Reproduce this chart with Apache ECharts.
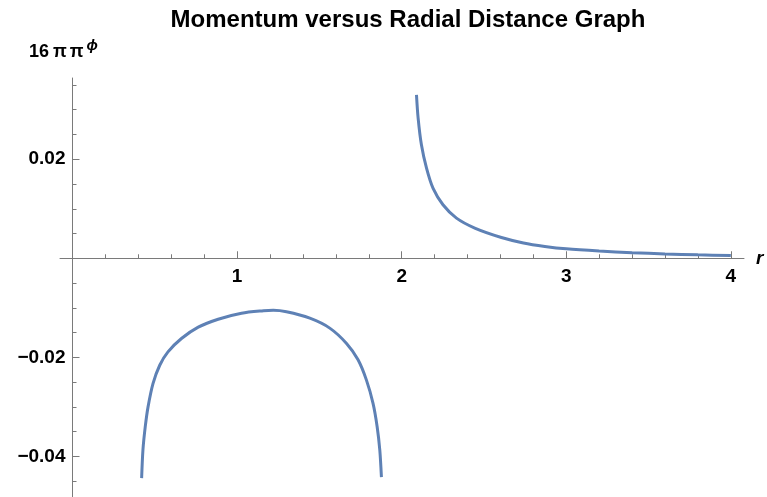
<!DOCTYPE html>
<html>
<head>
<meta charset="utf-8">
<script src="https://cdn.jsdelivr.net/npm/echarts@6/dist/echarts.min.js"></script>
<style>
html,body{margin:0;padding:0;background:#fff;}
#chart{width:767px;height:497px;}
</style>
</head>
<body>
<div id="chart"></div>
<script>
// ---- data ----
var titleText = 'Momentum versus Radial Distance Graph';
var xMajorTicks = [1, 2, 3, 4];
var xMinorTicks = [0.2, 0.4, 0.6, 0.8, 1.2, 1.4, 1.6, 1.8, 2.2, 2.4, 2.6, 2.8, 3.2, 3.4, 3.6, 3.8];
var yMajorTicks = [-0.04, -0.02, 0.02];
var yMinorTicks = [-0.045, -0.035, -0.03, -0.025, -0.015, -0.01, -0.005, 0.005, 0.01, 0.015, 0.025, 0.03, 0.035];

var leftBranch = [
  [0.420, -0.0444], [0.428, -0.0387], [0.442, -0.0340], [0.459, -0.0300],
  [0.489, -0.0253], [0.530, -0.0216], [0.580, -0.0189], [0.662, -0.0162],
  [0.764, -0.0139], [0.885, -0.0123], [1.027, -0.0111], [1.160, -0.0106],
  [1.220, -0.0105], [1.300, -0.0108], [1.442, -0.0121], [1.563, -0.0141],
  [1.665, -0.0172], [1.735, -0.0205], [1.786, -0.0246], [1.826, -0.0293],
  [1.851, -0.0340], [1.867, -0.0387], [1.877, -0.0442]
];
var rightBranch = [
  [2.090, 0.0330], [2.100, 0.0283], [2.120, 0.0229], [2.151, 0.0182],
  [2.191, 0.0141], [2.251, 0.0108], [2.333, 0.0081], [2.444, 0.0061],
  [2.606, 0.0042], [2.740, 0.0031], [2.870, 0.0024], [3.000, 0.0019],
  [3.200, 0.00145], [3.400, 0.00112], [3.600, 0.00088], [3.800, 0.0007],
  [4.000, 0.00056]
];

// ---- chart ----
var FONT = '"Liberation Sans", Arial, sans-serif';
var axisColor = '#7a7a7a';
var xMin = -0.076, xMax = 4.08, yMin = -0.0482, yMax = 0.0364;
var GRID = {left: 60, right: 23, top: 78, bottom: 0};

function yFmt(v) { return (v < 0 ? '\u2212' : '') + Math.abs(v).toFixed(2); }

var dom = document.getElementById('chart');
var chart = echarts.init(dom, null, {renderer: 'canvas'});
chart.setOption({
  animation: false,
  backgroundColor: '#ffffff',
  title: [
    {
      text: titleText, left: 403, top: 3, textAlign: 'center',
      textStyle: {fontFamily: FONT, fontWeight: 'bold', fontSize: 24, color: '#000'}
    },
    {
      text: '{n|16}{p|\u03c0}{p|\u03c0}{s|\u03d5}', left: 24, top: 33,
      textStyle: {
        rich: {
          n: {fontFamily: FONT, fontWeight: 'bold', fontSize: 18, color: '#000', verticalAlign: 'bottom', padding: [0, 4, 0, 0]},
          p: {fontFamily: FONT, fontWeight: 'bold', fontSize: 18, color: '#000', verticalAlign: 'bottom', padding: [0, 3, 0, 0]},
          s: {fontFamily: FONT, fontWeight: 'bold', fontStyle: 'italic', fontSize: 15, color: '#000', verticalAlign: 'top', padding: [0, 0, 8, 0]}
        }
      }
    }
  ],
  grid: {left: GRID.left, right: GRID.right, top: GRID.top, bottom: GRID.bottom, containLabel: false, outerBoundsMode: 'none'},
  xAxis: [
    {
      type: 'value', min: xMin, max: xMax, position: 'bottom',
      name: 'r', nameLocation: 'end', nameGap: 12,
      nameTextStyle: {fontFamily: FONT, fontWeight: 'bold', fontStyle: 'italic', fontSize: 19, color: '#000', verticalAlign: 'middle'},
      axisLine: {show: true, onZero: false, lineStyle: {color: axisColor, width: 1}},
      axisTick: {show: true, inside: true, length: 7, customValues: xMajorTicks, lineStyle: {color: axisColor}},
      axisLabel: {show: true, customValues: xMajorTicks, margin: 9, fontFamily: FONT, fontWeight: 'bold', fontSize: 19, color: '#000'},
      splitLine: {show: false}
    },
    {
      type: 'value', min: xMin, max: xMax, position: 'bottom',
      axisLine: {show: false, onZero: false},
      axisTick: {show: true, inside: true, length: 4, customValues: xMinorTicks, lineStyle: {color: axisColor}},
      axisLabel: {show: false},
      splitLine: {show: false}
    }
  ],
  yAxis: [
    {
      type: 'value', min: yMin, max: yMax, position: 'left',
      axisLine: {show: true, onZero: false, lineStyle: {color: axisColor, width: 1}},
      axisTick: {show: true, inside: true, length: 7, customValues: yMajorTicks, lineStyle: {color: axisColor}},
      axisLabel: {show: true, customValues: yMajorTicks, formatter: yFmt, margin: 7, fontFamily: FONT, fontWeight: 'bold', fontSize: 19, color: '#000'},
      splitLine: {show: false}
    },
    {
      type: 'value', min: yMin, max: yMax, position: 'left',
      axisLine: {show: false, onZero: false},
      axisTick: {show: true, inside: true, length: 4, customValues: yMinorTicks, lineStyle: {color: axisColor}},
      axisLabel: {show: false},
      splitLine: {show: false}
    }
  ],
  series: [
    {
      type: 'line', name: 'left', xAxisIndex: 0, yAxisIndex: 0, data: leftBranch,
      smooth: 0.3, showSymbol: false, symbol: 'none',
      lineStyle: {color: '#5e81b5', width: 3}
    },
    {
      type: 'line', name: 'right', xAxisIndex: 0, yAxisIndex: 0, data: rightBranch,
      smooth: 0.3, showSymbol: false, symbol: 'none',
      lineStyle: {color: '#5e81b5', width: 3}
    }
  ]
});

// Move both axes so that they cross at the origin (positions come from the library's scales).
var zeroYPx = chart.convertToPixel({yAxisIndex: 0}, 0);
var zeroXPx = chart.convertToPixel({xAxisIndex: 0}, 0);
var gridBottomPx = dom.clientHeight - GRID.bottom;
var xOff = -(gridBottomPx - zeroYPx);
var yOff = -(zeroXPx - GRID.left);
chart.setOption({
  xAxis: [{offset: xOff}, {offset: xOff}],
  yAxis: [{offset: yOff}, {offset: yOff}]
});
</script>
</body>
</html>
